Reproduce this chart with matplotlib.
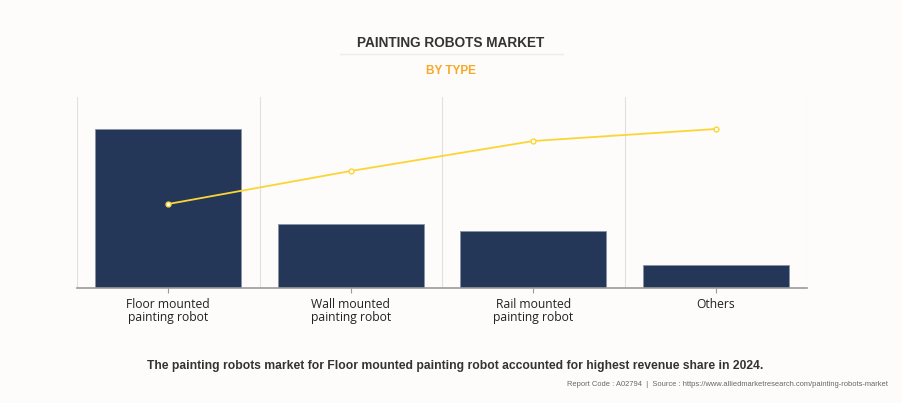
import matplotlib
matplotlib.use("Agg")
import matplotlib.pyplot as plt
from matplotlib.lines import Line2D

categories = ["Floor mounted\npainting robot", "Wall mounted\npainting robot",
              "Rail mounted\npainting robot", "Others"]
bar_values = [159, 64, 57, 23]
line_values = [84, 117, 147, 159]

W, H = 903, 403
fig = plt.figure(figsize=(W / 100, H / 100), dpi=100)
fig.patch.set_facecolor("#fdfcfb")

ax = fig.add_axes([77 / W, (H - 288) / H, (807 - 77) / W, (288 - 97) / H])
ax.set_facecolor("#fdfcfb")
x = list(range(len(categories)))
ax.bar(x, bar_values, width=0.8, color="#243758", edgecolor="#8a93a3", linewidth=0.6, zorder=2)
ax.plot(x, line_values, color="#fcd535", linewidth=1.3, marker="o", markersize=3.5,
        markerfacecolor="white", markeredgecolor="#fcd535", markeredgewidth=1, zorder=3)
ax.set_xlim(-0.5, 3.5)
ax.set_ylim(0, 191)
for b in [-0.5, 0.5, 1.5, 2.5, 3.5]:
    ax.axvline(b, color="#e2e0de", linewidth=0.8, zorder=1)
for s in ["top", "right", "left"]:
    ax.spines[s].set_visible(False)
ax.spines["bottom"].set_color("#9a9a9a")
ax.spines["bottom"].set_linewidth(1.2)
ax.set_yticks([])
ax.set_xticks(x)
ax.set_xticklabels(categories, fontsize=8.7, color="#222222", linespacing=0.95,
                   family=["Open Sans", "DejaVu Sans"])
ax.tick_params(axis="x", length=3.5, color="#9a9a9a", pad=4)

fig.text(451 / W, 1 - 43 / H, "PAINTING ROBOTS MARKET", ha="center", va="center",
         fontsize=9.8, fontweight="bold", color="#333333", family=["Liberation Sans", "DejaVu Sans"])
fig.add_artist(Line2D([340 / W, 563 / W], [1 - 54 / H, 1 - 54 / H], color="#ececec", linewidth=1))
fig.text(451 / W, 1 - 71 / H, "BY TYPE", ha="center", va="center",
         fontsize=8.5, fontweight="bold", color="#f7a825", family=["Liberation Sans", "DejaVu Sans"])
fig.text(455 / W, 1 - 366 / H,
         "The painting robots market for Floor mounted painting robot accounted for highest revenue share in 2024.",
         ha="center", va="center", fontsize=8.75, fontweight="bold", color="#333333",
         family=["Liberation Sans", "DejaVu Sans"])
fig.text(888 / W, 1 - 385 / H,
         "Report Code : A02794  |  Source : https://www.alliedmarketresearch.com/painting-robots-market",
         ha="right", va="center", fontsize=5.4, color="#666666",
         family=["Liberation Sans", "DejaVu Sans"])

fig.savefig("out.png", dpi=100, facecolor=fig.get_facecolor())
